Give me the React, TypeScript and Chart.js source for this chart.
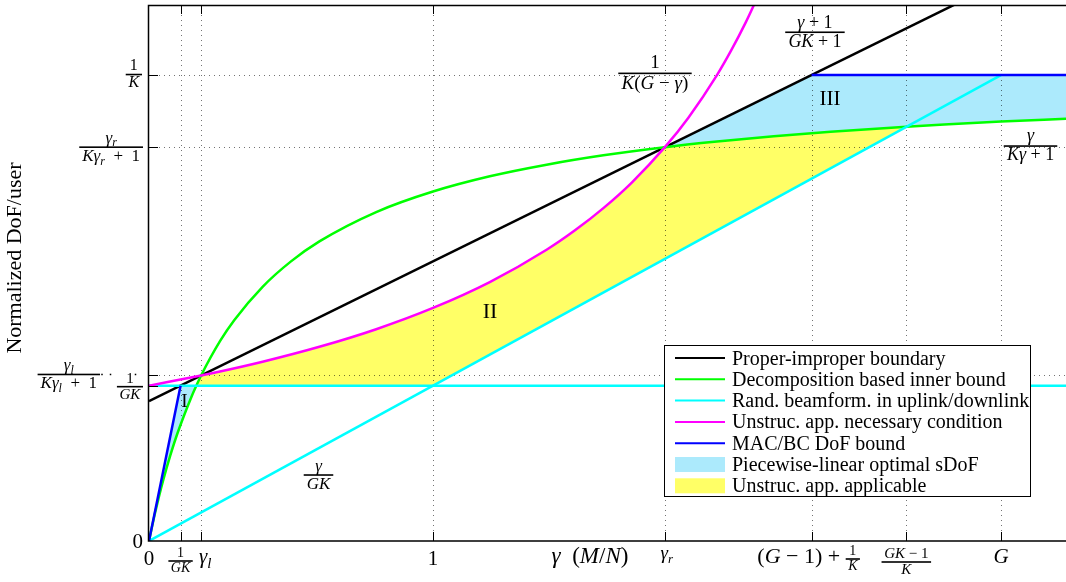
import React, { useEffect, useRef } from 'react';
import { Chart, registerables } from 'chart.js';

Chart.register(...registerables);

// ---------- data ----------
const xTickValues = [0, 0.1111, 0.1835, 1, 1.8165, 2.3333, 2.6667, 3];
const yTickValues = [0, 0.1111, 0.1184, 0.2817, 0.3333];

const seriesNames = [
  'Proper-improper boundary',
  'Decomposition based inner bound',
  'Rand. beamform. in uplink/downlink',
  'Unstruc. app. necessary condition',
  'MAC/BC DoF bound',
  'Piecewise-linear optimal sDoF',
  'Unstruc. app. applicable',
];

const boundaryGamma = [0, 3.229];
const boundaryDof = [0.1, 0.4229];

const innerGamma = [0, 0.01, 0.02, 0.035, 0.05, 0.075, 0.1, 0.15, 0.1667, 0.1835, 0.25, 0.3, 0.4, 0.5, 0.6, 0.8, 1.0, 1.2, 1.4, 1.6, 1.8165, 2.0, 2.2, 2.4, 2.6667, 2.8, 3.0, 3.229];
const innerDof = [0, 0.0097, 0.0189, 0.0317, 0.0435, 0.0612, 0.0769, 0.1034, 0.1111, 0.1184, 0.1429, 0.1579, 0.1818, 0.2, 0.2143, 0.2353, 0.25, 0.2609, 0.2692, 0.2759, 0.2817, 0.2857, 0.2895, 0.2927, 0.2963, 0.2979, 0.3, 0.3021];

const randFlatGamma = [0, 3.229];
const randFlatDof = [0.1111, 0.1111];
const randDiagGamma = [0, 3];
const randDiagDof = [0, 0.3333];

const necGamma = [0, 0.1835, 0.25, 0.4, 0.6, 0.8, 1.0, 1.2, 1.4, 1.5, 1.6, 1.7, 1.8165, 1.9, 2.0, 2.05, 2.1, 2.15];
const necDof = [0.1111, 0.1184, 0.1212, 0.1282, 0.1389, 0.1515, 0.1667, 0.1852, 0.2083, 0.2222, 0.2381, 0.2564, 0.2817, 0.303, 0.3333, 0.3509, 0.3704, 0.3922];

const macGamma = [0, 0.1111, 1, 2.3333, 3.229];
const macDof = [0, 0.1111, null, 0.3333, 0.3333];

const regionIGamma = [0, 0.1111, 0.1667, 0.15, 0.1, 0.075, 0.05, 0.035, 0.02, 0.01, 0];
const regionIDof = [0, 0.1111, 0.1111, 0.1034, 0.0769, 0.0612, 0.0435, 0.0317, 0.0189, 0.0097, 0];

const regionIIGamma = [0.1667, 0.1835, 0.25, 0.4, 0.6, 0.8, 1.0, 1.2, 1.4, 1.5, 1.6, 1.7, 1.8165, 2.0, 2.2, 2.4, 2.6667, 1.0, 0.1667];
const regionIIDof = [0.1111, 0.1184, 0.1212, 0.1282, 0.1389, 0.1515, 0.1667, 0.1852, 0.2083, 0.2222, 0.2381, 0.2564, 0.2817, 0.2857, 0.2895, 0.2927, 0.2963, 0.1111, 0.1111];

const regionIIIGamma = [1.8165, 2.3333, 3.229, 3.229, 3.0, 2.8, 2.6667, 2.4, 2.2, 2.0, 1.8165];
const regionIIIDof = [0.2817, 0.3333, 0.3333, 0.3021, 0.3, 0.2979, 0.2963, 0.2927, 0.2895, 0.2857, 0.2817];

// ---------- styles ----------
const SERIF = '"Liberation Serif", "Times New Roman", Times, serif';
const C_BLACK = '#000000';
const C_GREEN = '#00ff00';
const C_CYAN = '#00ffff';
const C_MAGENTA = '#ff00ff';
const C_BLUE = '#0000ff';
const FILL_BLUE = 'rgb(172,234,252)';
const FILL_YELLOW = 'rgb(255,255,102)';

type Seg = { t: string; it?: boolean; sub?: boolean };
const rm = (t: string): Seg => ({ t });
const it = (t: string): Seg => ({ t, it: true });
const sb = (t: string): Seg => ({ t, it: true, sub: true });
const SP = '\u2005';

function fontFor(s: Seg, size: number) {
  const fs = s.sub ? Math.round(size * 0.7) : size;
  return `${s.it ? 'italic ' : ''}${fs}px ${SERIF}`;
}
function segWidth(ctx: CanvasRenderingContext2D, segs: Seg[], size: number) {
  let w = 0;
  for (const s of segs) {
    ctx.font = fontFor(s, size);
    w += ctx.measureText(s.t).width;
  }
  return w;
}
function drawSegs(ctx: CanvasRenderingContext2D, segs: Seg[], x: number, y: number, size: number, align: 'left' | 'center' | 'right') {
  const w = segWidth(ctx, segs, size);
  let cx = align === 'left' ? x : align === 'center' ? x - w / 2 : x - w;
  ctx.textAlign = 'left';
  ctx.textBaseline = 'alphabetic';
  for (const s of segs) {
    ctx.font = fontFor(s, size);
    ctx.fillText(s.t, cx, y + (s.sub ? size * 0.22 : 0));
    cx += ctx.measureText(s.t).width;
  }
  return w;
}
function fracWidth(ctx: CanvasRenderingContext2D, num: Seg[], den: Seg[], size: number) {
  return Math.max(segWidth(ctx, num, size), segWidth(ctx, den, size)) + size * 0.35;
}
function drawFrac(ctx: CanvasRenderingContext2D, num: Seg[], den: Seg[], x: number, barY: number, size: number, align: 'left' | 'center' | 'right') {
  const w = fracWidth(ctx, num, den, size);
  const cx = align === 'center' ? x : align === 'right' ? x - w / 2 : x + w / 2;
  ctx.fillRect(cx - w / 2, barY - 0.8, w, 1.6);
  drawSegs(ctx, num, cx, barY - size * 0.26, size, 'center');
  drawSegs(ctx, den, cx, barY + size * 0.8, size, 'center');
  return w;
}

const pts = (xs: number[], ys: (number | null)[]) => xs.map((x, i) => ({ x, y: ys[i] }));

const REGION_III_INDEX = 2;

const decorPlugin = {
  id: 'decor',
  afterDatasetDraw(chart: any, args: any) {
    if (args.index !== REGION_III_INDEX) return;
    const { ctx, chartArea: a, scales } = chart;
    ctx.save();
    ctx.strokeStyle = 'rgba(0,0,0,0.55)';
    ctx.lineWidth = 1;
    ctx.setLineDash([1, 4]);
    for (const v of xTickValues) {
      if (v === 0) continue;
      const x = Math.round(scales.x.getPixelForValue(v)) + 0.5;
      ctx.beginPath();
      ctx.moveTo(x, a.bottom);
      ctx.lineTo(x, a.top);
      ctx.stroke();
    }
    for (const v of yTickValues) {
      if (v === 0) continue;
      const y = Math.round(scales.y.getPixelForValue(v)) + 0.5;
      ctx.beginPath();
      ctx.moveTo(a.left, y);
      ctx.lineTo(a.right, y);
      ctx.stroke();
    }
    ctx.restore();
  },
  afterDatasetsDraw(chart: any) {
    const { ctx, chartArea: a, scales } = chart;
    const px = (v: number) => scales.x.getPixelForValue(v);
    const py = (v: number) => scales.y.getPixelForValue(v);
    ctx.save();
    // axes
    ctx.strokeStyle = '#000';
    ctx.lineWidth = 1.5;
    ctx.beginPath();
    ctx.moveTo(a.right, a.top + 0.5);
    ctx.lineTo(a.left - 0.5, a.top + 0.5);
    ctx.lineTo(a.left - 0.5, a.bottom);
    ctx.lineTo(a.right, a.bottom);
    ctx.stroke();
    // ticks (inward)
    ctx.lineWidth = 1;
    for (const v of xTickValues) {
      if (v === 0) continue;
      const x = Math.round(px(v)) + 0.5;
      ctx.beginPath();
      ctx.moveTo(x, a.bottom);
      ctx.lineTo(x, a.bottom - 9);
      ctx.moveTo(x, a.top);
      ctx.lineTo(x, a.top + 9);
      ctx.stroke();
    }
    for (const v of yTickValues) {
      if (v === 0) continue;
      const y = Math.round(py(v)) + 0.5;
      ctx.beginPath();
      ctx.moveTo(a.left, y);
      ctx.lineTo(a.left + 9, y);
      ctx.stroke();
    }

    ctx.fillStyle = '#000';
    const ax = a.bottom;
    // x tick labels
    drawSegs(ctx, [rm('0')], px(xTickValues[0]), ax + 24, 21, 'center');
    drawFrac(ctx, [rm('1')], [it('G'), it('K')], px(xTickValues[1]), ax + 20, 14, 'center');
    drawSegs(ctx, [it('γ'), sb('l')], px(xTickValues[2]) + 4, ax + 22, 21, 'center');
    drawSegs(ctx, [rm('1')], px(xTickValues[3]), ax + 24, 21, 'center');
    drawSegs(ctx, [it('γ'), sb('r')], px(xTickValues[4]) + 2, ax + 18, 19, 'center');
    {
      const t: Seg[] = [rm('('), it('G'), rm(SP + '−' + SP + '1)' + SP + '+' + SP)];
      const tw = segWidth(ctx, t, 22);
      const fw = fracWidth(ctx, [rm('1')], [it('K')], 14);
      const start = px(xTickValues[5]) - 3 - (tw + fw) / 2;
      drawSegs(ctx, t, start, ax + 22, 22, 'left');
      drawFrac(ctx, [rm('1')], [it('K')], start + tw, ax + 18, 14, 'left');
    }
    drawFrac(ctx, [it('G'), it('K'), rm(SP + '−' + SP + '1')], [it('K')], px(xTickValues[6]), ax + 21, 15, 'center');
    drawSegs(ctx, [it('G')], px(xTickValues[7]), ax + 22, 21, 'center');

    // y tick labels
    const lx = a.left - 6;
    drawSegs(ctx, [rm('0')], lx, py(yTickValues[0]) + 7, 21, 'right');
    drawFrac(ctx, [rm('1')], [it('G'), it('K')], lx, py(yTickValues[1]) + 1, 15, 'right');
    drawFrac(ctx, [it('γ'), sb('l')], [it('K'), it('γ'), sb('l'), rm('\u2002+\u20021')], lx - 43, py(yTickValues[2]) - 1, 17, 'right');
    for (const dx of [-41, -32.5, -7.5]) {
      ctx.fillRect(lx + dx - 0.75, py(yTickValues[2]) - 1.75, 1.5, 1.5);
    }
    drawFrac(ctx, [it('γ'), sb('r')], [it('K'), it('γ'), sb('r'), rm('\u2002+\u20021')], lx, py(yTickValues[3]), 17, 'right');
    drawFrac(ctx, [rm('1')], [it('K')], lx - 1, py(yTickValues[4]) - 0.5, 16, 'right');

    // axis titles
    drawSegs(ctx, [it('γ'), rm('  ('), it('M'), rm('/'), it('N'), rm(')')], 590, ax + 22, 23, 'center');
    ctx.save();
    ctx.translate(21, 258);
    ctx.rotate(-Math.PI / 2);
    ctx.font = `22px ${SERIF}`;
    ctx.textAlign = 'center';
    ctx.textBaseline = 'alphabetic';
    ctx.fillText('Normalized DoF/user', 0, 0);
    ctx.restore();

    // in-plot annotations
    drawFrac(ctx, [it('γ'), rm(SP + '+' + SP + '1')], [it('G'), it('K'), rm(SP + '+' + SP + '1')], px(2.345), py(0.3639), 18, 'center');
    drawFrac(ctx, [rm('1')], [it('K'), rm('('), it('G'), rm(SP + '−' + SP), it('γ'), rm(')')], px(1.7817), py(0.3345), 19, 'center');
    drawFrac(ctx, [it('γ')], [it('K'), it('γ'), rm(SP + '+' + SP + '1')], px(3.104), py(0.2825), 18, 'center');
    drawFrac(ctx, [it('γ')], [it('G'), it('K')], px(0.5968), py(0.0472), 17, 'center');
    drawSegs(ctx, [rm('II')], px(1.2007), py(0.1595), 22, 'center');
    drawSegs(ctx, [rm('III')], px(2.398), py(0.3119), 21, 'center');
    drawSegs(ctx, [rm('I')], px(0.125), py(0.0959), 19, 'center');

    // legend
    const lb = { x: 664.5, y: 345.5, w: 366, h: 151 };
    ctx.fillStyle = '#fff';
    ctx.fillRect(lb.x, lb.y, lb.w, lb.h);
    ctx.strokeStyle = '#000';
    ctx.lineWidth = 1;
    ctx.strokeRect(lb.x, lb.y, lb.w, lb.h);
    const legendColors = [C_BLACK, C_GREEN, C_CYAN, C_MAGENTA, C_BLUE, FILL_BLUE, FILL_YELLOW];
    seriesNames.forEach((name, i) => {
      const cy = 358 + i * 21.3;
      if (i < 5) {
        ctx.strokeStyle = legendColors[i];
        ctx.lineWidth = 2;
        ctx.beginPath();
        ctx.moveTo(675, cy);
        ctx.lineTo(725, cy);
        ctx.stroke();
      } else {
        ctx.fillStyle = legendColors[i];
        ctx.fillRect(675, cy - 7.5, 50, 15);
      }
      ctx.fillStyle = '#000';
      ctx.font = `20px ${SERIF}`;
      ctx.textAlign = 'left';
      ctx.textBaseline = 'alphabetic';
      ctx.fillText(name, 732, cy + 6.5);
    });
    ctx.restore();
  },
};

export default function App() {
  const ref = useRef<HTMLCanvasElement>(null);
  useEffect(() => {
    const canvas = ref.current;
    if (!canvas) return;
    const fillDs = (data: any[], color: string, order: number) => ({
      data,
      fill: 'shape',
      backgroundColor: color,
      borderWidth: 0,
      borderColor: 'rgba(0,0,0,0)',
      pointRadius: 0,
      tension: 0,
      order,
    });
    const lineDs = (data: any[], color: string, order: number, curve = false) => ({
      data,
      fill: false,
      borderColor: color,
      backgroundColor: color,
      borderWidth: 2.5,
      pointRadius: 0,
      tension: 0,
      cubicInterpolationMode: curve ? 'monotone' : 'default',
      spanGaps: false,
      order,
    });
    const chart = new Chart(canvas, {
      type: 'line',
      data: {
        datasets: [
          fillDs(pts(regionIGamma, regionIDof), FILL_BLUE, 12),
          fillDs(pts(regionIIGamma, regionIIDof), FILL_YELLOW, 11),
          fillDs(pts(regionIIIGamma, regionIIIDof), FILL_BLUE, 10),
          lineDs(pts(boundaryGamma, boundaryDof), C_BLACK, 6),
          lineDs(pts(innerGamma, innerDof), C_GREEN, 5, true),
          lineDs(pts(randFlatGamma, randFlatDof), C_CYAN, 4),
          lineDs(pts(randDiagGamma, randDiagDof), C_CYAN, 4),
          lineDs(pts(necGamma, necDof), C_MAGENTA, 3, true),
          lineDs(pts(macGamma, macDof), C_BLUE, 1),
        ] as any,
      },
      options: {
        responsive: false,
        animation: false,
        devicePixelRatio: 1,
        events: [],
        layout: { padding: { top: 5, right: 0, left: 0, bottom: 0 } },
        plugins: { legend: { display: false }, tooltip: { enabled: false } },
        scales: {
          x: {
            type: 'linear',
            min: 0,
            max: 3.229,
            ticks: { display: false },
            grid: { display: false },
            border: { display: false },
            afterFit: (s: any) => { s.height = 41; },
          },
          y: {
            type: 'linear',
            min: 0,
            max: 0.3834,
            ticks: { display: false },
            grid: { display: false },
            border: { display: false },
            afterFit: (s: any) => { s.width = 149; },
          },
        },
      } as any,
      plugins: [decorPlugin as any],
    });
    return () => chart.destroy();
  }, []);
  return (
    <div style={{ position: 'absolute', left: 0, top: 0, width: 1066, height: 582, background: '#fff' }}>
      <canvas ref={ref} width={1066} height={582} style={{ display: 'block', width: 1066, height: 582 }} />
    </div>
  );
}
